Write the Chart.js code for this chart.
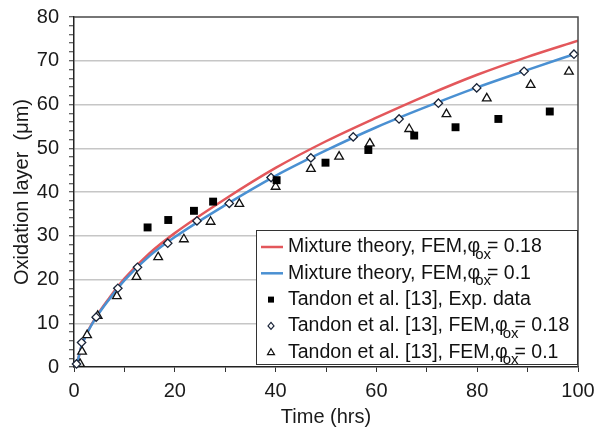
<!DOCTYPE html>
<html>
<head>
<meta charset="utf-8">
<script src="https://cdn.jsdelivr.net/npm/chart.js@4.4.1/dist/chart.umd.min.js"></script>
<style>
html, body { margin: 0; padding: 0; background: #fff; }
</style>
</head>
<body>
<canvas id="chart" width="595" height="433"></canvas>
<script>
// values
const redT = [0, 0.5, 1.5, 2.5, 4.5, 7, 10, 15, 20, 30, 40, 50, 60, 70, 80, 90, 100];
const redY = [0, 0.6, 4.8, 7.6, 11.7, 15.8, 20.2, 26.0, 30.6, 38.4, 45.5, 51.6, 57.0, 62.1, 66.8, 70.9, 74.6];

const blueT = [0, 0.5, 1.5, 2.5, 4.5, 7, 10, 15, 20, 30, 40, 50, 60, 70, 80, 90, 100];
const blueY = [0, 0.6, 4.8, 7.5, 11.5, 15.5, 19.8, 25.4, 29.7, 37.0, 43.7, 49.5, 54.8, 59.5, 63.9, 67.9, 71.8];

const expT = [14.6, 18.7, 23.8, 27.6, 40.2, 49.9, 58.4, 67.5, 75.7, 84.2, 94.4];
const expY = [31.9, 33.6, 35.7, 37.8, 42.7, 46.7, 49.6, 52.9, 54.8, 56.7, 58.4];

const fem18T = [0.5, 1.5, 4.4, 8.7, 12.6, 18.6, 24.4, 30.8, 39.1, 47.0, 55.4, 64.5, 72.3, 79.9, 89.3, 99.2];
const fem18Y = [0.7, 5.6, 11.4, 18.0, 22.8, 28.3, 33.4, 37.4, 43.3, 47.8, 52.6, 56.7, 60.3, 63.8, 67.6, 71.5];

const fem10T = [1.2, 1.6, 2.6, 4.7, 8.5, 12.4, 16.7, 21.8, 27.1, 32.8, 40.0, 47.0, 52.6, 58.7, 66.5, 73.9, 81.9, 90.6, 98.2];
const fem10Y = [0.7, 3.5, 7.3, 11.7, 16.2, 20.6, 25.1, 29.2, 33.2, 37.3, 41.2, 45.3, 48.1, 51.1, 54.4, 57.8, 61.4, 64.5, 67.5];

const xMin = 0, xMax = 100, yMin = 0, yMax = 80;

const RED = '#e3575b';
const BLUE = '#4a90d2';
const FONT = '"Liberation Sans", Arial, Helvetica, sans-serif';
const LEGEND_FONT = '19.5px ' + FONT;

function pts(xs, ys) {
    return xs.map((x, i) => ({ x: x, y: ys[i] }));
}

// text with the "ox" subscript after phi
function phiLabel(ctx, x, y, pre, post) {
    ctx.font = LEGEND_FONT;
    ctx.fillText(pre, x, y);
    const w = ctx.measureText(pre).width;
    ctx.font = '15px ' + FONT;
    ctx.fillText('ox', x + w - 5, y + 8);
    const sw = ctx.measureText('ox').width;
    ctx.font = LEGEND_FONT;
    ctx.fillText(post, x + w - 5 + sw - 4, y);
}

const frameAndLegend = {
    id: 'frameAndLegend',
    afterDatasetsDraw(chart) {
        const { ctx, chartArea: a } = chart;
        ctx.save();
        ctx.strokeStyle = '#4a4a4a';
        ctx.lineWidth = 1.5;
        ctx.beginPath();
        ctx.moveTo(a.left, a.top);
        ctx.lineTo(a.right, a.top);
        ctx.lineTo(a.right, a.bottom);
        ctx.stroke();
        ctx.restore();
    },
    afterDraw(chart) {
        const ctx = chart.ctx;
        const bx = 256, by = 230, bw = 321, bh = 134;
        ctx.save();
        ctx.fillStyle = '#fff';
        ctx.fillRect(bx, by, bw, bh);
        ctx.strokeStyle = '#333';
        ctx.lineWidth = 1;
        ctx.strokeRect(bx + 0.5, by + 0.5, bw, bh);

        const rows = [247, 273.3, 299.6, 325.9, 352.2];
        const sx = 271, tx = 288;
        ctx.textBaseline = 'middle';

        // line symbols
        ctx.lineWidth = 2.5;
        ctx.strokeStyle = RED;
        ctx.beginPath(); ctx.moveTo(261, rows[0]); ctx.lineTo(283, rows[0]); ctx.stroke();
        ctx.strokeStyle = BLUE;
        ctx.beginPath(); ctx.moveTo(261, rows[1]); ctx.lineTo(283, rows[1]); ctx.stroke();

        // marker symbols
        ctx.fillStyle = '#000';
        ctx.fillRect(sx - 3, rows[2] - 3, 6, 6);
        ctx.strokeStyle = '#1a2438';
        ctx.lineWidth = 1.2;
        ctx.fillStyle = '#fff';
        ctx.beginPath();
        ctx.moveTo(sx, rows[3] - 3.5); ctx.lineTo(sx + 3, rows[3]);
        ctx.lineTo(sx, rows[3] + 3.5); ctx.lineTo(sx - 3, rows[3]); ctx.closePath();
        ctx.fill(); ctx.stroke();
        ctx.strokeStyle = '#111';
        ctx.beginPath();
        ctx.moveTo(sx, rows[4] - 3.5); ctx.lineTo(sx + 3.5, rows[4] + 2.5);
        ctx.lineTo(sx - 3.5, rows[4] + 2.5); ctx.closePath();
        ctx.fill(); ctx.stroke();

        ctx.fillStyle = '#111';
        phiLabel(ctx, tx, rows[0], 'Mixture theory, FEM,\u03c6', '= 0.18');
        phiLabel(ctx, tx, rows[1], 'Mixture theory, FEM,\u03c6', '= 0.1');
        ctx.font = LEGEND_FONT;
        ctx.fillText('Tandon et al. [13], Exp. data', tx, rows[2]);
        phiLabel(ctx, tx, rows[3], 'Tandon et al. [13], FEM,\u03c6', '= 0.18');
        phiLabel(ctx, tx, rows[4], 'Tandon et al. [13], FEM,\u03c6', '= 0.1');
        ctx.restore();
    }
};

const tickFont = { family: FONT, size: 20 };

const chartInstance = new Chart(document.getElementById('chart').getContext('2d'), {
    type: 'scatter',
    data: {
        datasets: [
            {
                label: 'Tandon et al. [13], Exp. data',
                data: pts(expT, expY),
                pointStyle: 'rect',
                pointRadius: 5.6,
                backgroundColor: '#000',
                borderColor: '#000',
                borderWidth: 0,
                clip: false,
                order: 1
            },
            {
                label: 'Tandon et al. [13], FEM, phi 0.18',
                data: pts(fem18T, fem18Y),
                pointStyle: 'rectRot',
                pointRadius: 4.2,
                backgroundColor: '#fff',
                borderColor: '#1a2438',
                borderWidth: 1.3,
                clip: false,
                order: 1
            },
            {
                label: 'Tandon et al. [13], FEM, phi 0.1',
                data: pts(fem10T, fem10Y),
                pointStyle: 'triangle',
                pointRadius: 5,
                backgroundColor: '#fff',
                borderColor: '#111',
                borderWidth: 1.3,
                clip: false,
                order: 1
            },
            {
                label: 'Mixture theory, FEM, phi 0.18',
                data: pts(redT, redY),
                showLine: true,
                borderColor: RED,
                borderWidth: 2.5,
                pointRadius: 0,
                cubicInterpolationMode: 'monotone',
                order: 3
            },
            {
                label: 'Mixture theory, FEM, phi 0.1',
                data: pts(blueT, blueY),
                showLine: true,
                borderColor: BLUE,
                borderWidth: 2.5,
                pointRadius: 0,
                cubicInterpolationMode: 'monotone',
                order: 2
            }
        ]
    },
    options: {
        responsive: false,
        animation: false,
        devicePixelRatio: 1,
        layout: { autoPadding: false, padding: { top: 17, right: 17, left: 0, bottom: 0 } },
        plugins: {
            legend: { display: false },
            tooltip: { enabled: false }
        },
        scales: {
            x: {
                type: 'linear',
                min: xMin,
                max: xMax,
                // fixed height, and no extra label padding at the ends
                afterFit: s => { s.height = 66; s.paddingLeft = 0; s.paddingRight = 0; },
                ticks: {
                    stepSize: 10,
                    autoSkip: false,
                    maxRotation: 0,
                    padding: 7,
                    color: '#1a1a1a',
                    font: tickFont,
                    callback: v => (v % 20 === 0 ? v : '')
                },
                grid: {
                    drawOnChartArea: false,
                    tickColor: '#333',
                    tickLength: 5,
                    tickWidth: 1
                },
                border: { color: '#222', width: 1.5 },
                title: {
                    display: true,
                    text: 'Time (hrs)',
                    color: '#1a1a1a',
                    font: tickFont,
                    padding: { top: 0, bottom: 4 }
                }
            },
            y: {
                min: yMin,
                max: yMax,
                afterFit: s => { s.width = 74; s.paddingTop = 0; s.paddingBottom = 0; },
                ticks: {
                    stepSize: 2,
                    autoSkip: false,
                    padding: 10,
                    color: '#1a1a1a',
                    font: tickFont,
                    callback: v => (v % 10 === 0 ? v : '')
                },
                grid: {
                    color: c => (c.tick && c.tick.value % 10 === 0 && c.tick.value > yMin && c.tick.value < yMax) ? '#c6c6c6' : 'rgba(0,0,0,0)',
                    lineWidth: 1.5,
                    tickColor: '#333',
                    tickLength: 5,
                    tickWidth: 1
                },
                border: { color: '#222', width: 1.5 },
                title: {
                    display: true,
                    text: 'Oxidation layer  (\u03bcm)',
                    color: '#1a1a1a',
                    font: tickFont,
                    padding: { top: 10, bottom: 0 }
                }
            }
        }
    },
    plugins: [frameAndLegend]
});
</script>
</body>
</html>
